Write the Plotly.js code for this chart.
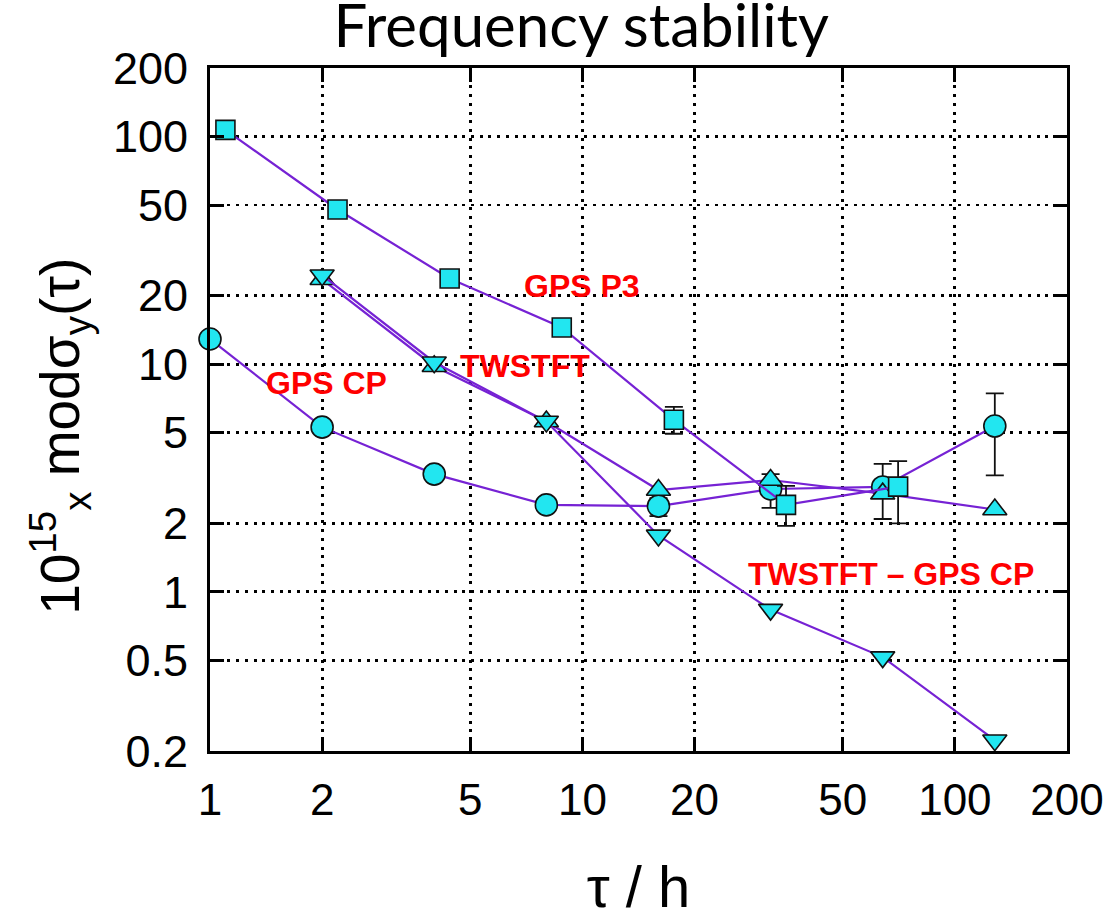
<!DOCTYPE html>
<html>
<head>
<meta charset="utf-8">
<script src="https://cdn.plot.ly/plotly-3.0.1.min.js"></script>
<style>
  html, body { margin: 0; padding: 0; background: #ffffff; }
  #chart { width: 1105px; height: 919px; }
</style>
</head>
<body>
<div id="chart"></div>
<script>
// ---- data ----
// GPS P3 (squares)
var tauP3 = [1.1, 2.2, 4.4, 8.8, 17.6, 35.2, 70.4];
var sigP3 = [107, 47.8, 23.8, 14.5, 5.7, 2.41, 2.9];
var errP3Plus  = [null, null, null, null, 0.8, 0.51, 0.85];
var errP3Minus = [null, null, null, null, 0.75, 0.46, 0.9];

// GPS CP (circles)
var tauCP = [1, 2, 4, 8, 16, 32, 64, 128];
var sigCP = [12.9, 5.29, 3.29, 2.41, 2.38, 2.83, 2.89, 5.35];
var errCPPlus  = [null, null, null, null, 0.2, 0.46, 0.76, 2.1];
var errCPMinus = [null, null, null, null, 0.23, 0.49, 0.8, 2.1];

// TWSTFT (triangles up)
var tauTW = [2, 4, 8, 16, 32, 64, 128];
var sigTW = [23.6, 9.8, 5.6, 2.8, 3.1, 2.7, 2.3];

// TWSTFT - GPS CP (triangles down)
var tauDiff = [2, 4, 8, 16, 32, 64, 128];
var sigDiff = [24.6, 10.2, 5.6, 1.77, 0.836, 0.517, 0.223];

// axis ticks
var xTickVals = [1, 2, 5, 10, 20, 50, 100, 200];
var xTickText = ['1', '2', '5', '10', '20', '50', '100', '200'];
var yTickVals = [0.2, 0.5, 1, 2, 5, 10, 20, 50, 100, 200];
var yTickText = ['0.2', '0.5', '1', '2', '5', '10', '20', '50', '100', '200'];

// labels
var labelText = ['GPS P3', 'TWSTFT', 'GPS CP', 'TWSTFT \u2013 GPS CP'];
var labelX = [10.0, 7.0, 2.05, 67.5];
var labelY = [22.0, 9.85, 8.3, 1.2];

// ---- styling ----
var lineColor = '#7622d4';
var fillColor = '#22e6f0';
var edge = {color: '#111111', width: 1.6};

function errBar(plus, minus) {
  return {type: 'data', symmetric: false, array: plus, arrayminus: minus,
          color: '#111111', thickness: 1.8, width: 9, visible: true};
}

var traces = [
  {x: tauCP, y: sigCP, mode: 'lines+markers', name: 'GPS CP', cliponaxis: false,
   line: {color: lineColor, width: 2.2},
   marker: {symbol: 'circle', size: 22, color: fillColor, line: edge},
   error_y: errBar(errCPPlus, errCPMinus)},
  {x: tauTW, y: sigTW, mode: 'lines+markers', name: 'TWSTFT', cliponaxis: false,
   line: {color: lineColor, width: 2.2},
   marker: {symbol: 'triangle-up', size: 21, color: fillColor, line: edge}},
  {x: tauDiff, y: sigDiff, mode: 'lines+markers', name: 'TWSTFT - GPS CP', cliponaxis: false,
   line: {color: lineColor, width: 2.2},
   marker: {symbol: 'triangle-down', size: 21, color: fillColor, line: edge}},
  {x: tauP3, y: sigP3, mode: 'lines+markers', name: 'GPS P3', cliponaxis: false,
   line: {color: lineColor, width: 2.2},
   marker: {symbol: 'square', size: 19, color: fillColor, line: edge},
   error_y: errBar(errP3Plus, errP3Minus)}
];

var annotations = labelText.map(function (t, i) {
  return {text: '<b>' + t + '</b>', x: Math.log10(labelX[i]), y: Math.log10(labelY[i]),
          xref: 'x', yref: 'y', showarrow: false,
          font: {family: 'Liberation Sans, Arial, sans-serif', size: 32, color: '#ff0000'}};
});

// y-axis title (placed as rotated text to match the reference position)
annotations.push({
  text: '10<sup>15</sup><sub>x</sub> mod\u03c3<sub>y</sub>(\u03c4)',
  xref: 'paper', yref: 'paper', x: -0.175, y: 0.46,
  xanchor: 'center', yanchor: 'middle', textangle: -90, showarrow: false,
  font: {family: 'Liberation Sans, Arial, sans-serif', size: 55, color: '#000000'}
});

var gridDash = '3px,5.7px';

var layout = {
  width: 1105, height: 919,
  paper_bgcolor: '#ffffff', plot_bgcolor: '#ffffff',
  showlegend: false,
  margin: {l: 210, r: 38, t: 68, b: 168},
  title: {text: 'Frequency stability', x: 0.526, xanchor: 'center',
          y: 0.972, yanchor: 'middle', yref: 'container',
          font: {family: 'Lato, Carlito, Calibri, sans-serif', size: 60, color: '#000000'}},
  xaxis: {
    type: 'log', range: [0, Math.log10(200)],
    tickvals: xTickVals, ticktext: xTickText,
    tickfont: {family: 'Liberation Sans, Arial, sans-serif', size: 44, color: '#000000'},
    ticks: 'inside', ticklen: 14, tickwidth: 3, tickcolor: '#000000',
    showline: true, linecolor: '#000000', linewidth: 3, mirror: 'ticks',
    showgrid: true, gridcolor: '#000000', gridwidth: 2.8, griddash: gridDash,
    zeroline: false, ticklabelstandoff: 8,
    title: {text: '\u03c4 / h', standoff: 58,
            font: {family: 'Liberation Sans, Arial, sans-serif', size: 58, color: '#000000'}}
  },
  yaxis: {
    type: 'log', range: [Math.log10(0.2), Math.log10(200)],
    tickvals: yTickVals, ticktext: yTickText,
    tickfont: {family: 'Liberation Sans, Arial, sans-serif', size: 45, color: '#000000'},
    ticks: 'inside', ticklen: 14, tickwidth: 3, tickcolor: '#000000',
    showline: true, linecolor: '#000000', linewidth: 3, mirror: 'ticks',
    showgrid: true, gridcolor: '#000000', gridwidth: 2.8, griddash: gridDash,
    zeroline: false, ticklabelstandoff: 10
  },
  annotations: annotations
};

Plotly.newPlot('chart', traces, layout, {staticPlot: true, displayModeBar: false});
</script>
</body>
</html>
